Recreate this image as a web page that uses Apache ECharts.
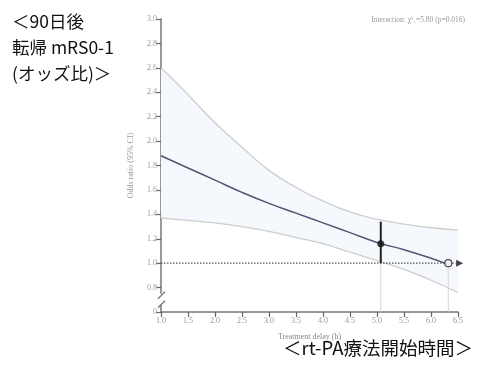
<!DOCTYPE html>
<html>
<head>
<meta charset="utf-8">
<script src="https://cdn.jsdelivr.net/npm/echarts@6/dist/echarts.min.js"></script>
<style>
html,body{margin:0;padding:0;background:#fff;}
#c{width:496px;height:367px;}
</style>
</head>
<body>
<div id="c"></div>
<script>
// ---- data ----
var hours      = [1.0, 1.5, 2.0, 2.5, 3.0, 3.5, 4.0, 4.5, 5.0, 5.5, 6.0, 6.5];
var orEstimate = [1.88, 1.78, 1.68, 1.58, 1.49, 1.41, 1.33, 1.25, 1.17, 1.11, 1.04, 0.99];
var ciUpper    = [2.60, 2.38, 2.15, 1.95, 1.76, 1.62, 1.51, 1.42, 1.36, 1.32, 1.29, 1.27];
var ciLower    = [1.37, 1.35, 1.33, 1.30, 1.26, 1.21, 1.16, 1.09, 1.02, 0.95, 0.86, 0.76];
var estHours   = [1.0, 1.5, 2.0, 2.5, 3.0, 3.5, 4.0, 4.5, 5.0, 5.5, 6.0, 6.32];
var pointHour = 5.07, pointOR = 1.16, pointLow = 1.0, pointHigh = 1.34;
var nullHour = 6.32, nullOR = 1.0, arrowHour = 6.53;
var refOR = 1.0, refStart = 1.0, refEnd = 6.45;
var yTicks = [0.6, 0.8, 1.0, 1.2, 1.4, 1.6, 1.8, 2.0, 2.2, 2.4, 2.6, 2.8, 3.0];
var yLabelZero = 0.6; // axis break: shown as "0"
var annotation = 'Interaction: \u03c7\u00b2\u2081=5.80 (p=0.016)';
var xName = 'Treatment delay (h)';
var yName = 'Odds ratio (95% CI)';
var jpYLabel = '\uff1c90\u65e5\u5f8c\n\u8ee2\u5e30 mRS0-1\n(\u30aa\u30c3\u30ba\u6bd4)\uff1e';
var jpXLabel = '\uff1crt-PA\u7642\u6cd5\u958b\u59cb\u6642\u9593\uff1e';

function pairs(xs, ys){ return xs.map(function(x,i){ return [x, ys[i]]; }); }
var bandData = hours.map(function(h,i){ return [h, ciLower[i], ciUpper[i]]; });

var serif = '"Liberation Serif","DejaVu Serif",serif';
var chart = echarts.init(document.getElementById('c'), null, {renderer:'canvas'});
var option = {
  animation:false,
  backgroundColor:'#fff',
  grid:{left:161, right:38, top:19, bottom:55, containLabel:false},
  xAxis:{
    type:'value', min:1, max:6.5, interval:0.5,
    name:xName, nameLocation:'middle', nameGap:21,
    nameTextStyle:{fontFamily:serif, fontSize:8, color:'#888'},
    axisLine:{show:true, onZero:false, lineStyle:{color:'#777', width:1.5}},
    axisTick:{show:true, inside:false, length:5, lineStyle:{color:'#666', width:1.2}},
    axisLabel:{fontFamily:serif, fontSize:8, color:'#999', margin:5,
      formatter:function(v){ return v.toFixed(1); }},
    splitLine:{show:false}
  },
  yAxis:{
    type:'value', min:yTicks[0], max:yTicks[yTicks.length-1], interval:0.2,
    name:yName, nameLocation:'middle', nameGap:26,
    nameTextStyle:{fontFamily:serif, fontSize:8, color:'#999'},
    axisLine:{show:true, onZero:false, lineStyle:{color:'#777', width:1.5}},
    axisTick:{show:true, inside:false, length:5, lineStyle:{color:'#666', width:1.2}},
    axisLabel:{fontFamily:serif, fontSize:8, color:'#999', margin:4,
      formatter:function(v){ return Math.abs(v - yLabelZero) < 0.01 ? '0' : v.toFixed(1); }},
    splitLine:{show:false}
  },
  series:[
    {type:'custom', data:bandData, z:1, silent:true,
     renderItem:function(params, api){
       if (params.dataIndex !== 0) return null;
       var top = [], bot = [];
       for (var i = 0; i < bandData.length; i++) {
         top.push(api.coord([bandData[i][0], bandData[i][2]]));
         bot.push(api.coord([bandData[i][0], bandData[i][1]]));
       }
       return {type:'polygon', shape:{points:top.concat(bot.reverse())},
               style:{fill:'#f5f9fd', stroke:null}};
     }},
    {type:'line', data:pairs(hours, ciUpper), symbol:'none', smooth:true,
     lineStyle:{color:'#cdcdcd', width:1.3}, z:2, silent:true},
    {type:'line', data:pairs(hours, ciLower), symbol:'none', smooth:true,
     lineStyle:{color:'#cdcdcd', width:1.3}, z:2, silent:true},
    {type:'line', data:[[pointHour, yTicks[0]],[pointHour, pointLow]], symbol:'none',
     lineStyle:{color:'#d4d4d4', width:1}, z:3},
    {type:'line', data:[[nullHour, yTicks[0]],[nullHour, nullOR]], symbol:'none',
     lineStyle:{color:'#d4d4d4', width:1}, z:3},
    {type:'line', data:[[refStart, refOR],[refEnd, refOR]], symbol:'none',
     lineStyle:{color:'#555', width:1.3, type:[1.5,1.5]}, z:4},
    {type:'line', data:pairs(estHours, orEstimate), symbol:'none', smooth:true,
     lineStyle:{color:'#4d5874', width:1.5}, z:5},
    {type:'line', data:[[pointHour, pointLow],[pointHour, pointHigh]], symbol:'none',
     lineStyle:{color:'#222', width:2}, z:6},
    {type:'scatter', data:[[pointHour, pointOR]], symbol:'circle', symbolSize:7,
     itemStyle:{color:'#111'}, z:7},
    {type:'scatter', data:[[nullHour, nullOR]], symbol:'circle', symbolSize:7,
     itemStyle:{color:'#fff', borderColor:'#222', borderWidth:1.2}, z:7},
    {type:'scatter', data:[[arrowHour, nullOR]], clip:false, symbol:'triangle', symbolRotate:-90, symbolSize:7,
     itemStyle:{color:'#111'}, z:7}
  ]
};
chart.setOption(option);

// axis-break mark and overlay texts
var pA = chart.convertToPixel({gridIndex:0}, [1, 0.75]);
var pB = chart.convertToPixel({gridIndex:0}, [1, 0.66]);
chart.setOption({graphic:[
  {type:'rect', shape:{x:pA[0]-3, y:pA[1], width:6, height:pB[1]-pA[1]}, style:{fill:'#fff'}, z:10},
  {type:'line', shape:{x1:pA[0]-3, y1:pA[1]+5, x2:pA[0]+4, y2:pA[1]-2}, style:{stroke:'#777', lineWidth:1.3}, z:11},
  {type:'line', shape:{x1:pB[0]-3, y1:pB[1]+3, x2:pB[0]+4, y2:pB[1]-4}, style:{stroke:'#777', lineWidth:1.3}, z:11},
  {type:'text', right:31, top:16, style:{text:annotation, fontFamily:serif, fontSize:7.5, fill:'#999'}, z:10},
  {type:'text', left:12, top:8, style:{text:jpYLabel, fontFamily:'"Noto Sans CJK JP",sans-serif', fontSize:17.5, lineHeight:26, fill:'#111'}, z:10},
  {type:'text', left:283, top:339, style:{text:jpXLabel, fontFamily:'"Noto Sans CJK JP",sans-serif', fontSize:18.5, fill:'#111'}, z:10}
]});
</script>
</body>
</html>
